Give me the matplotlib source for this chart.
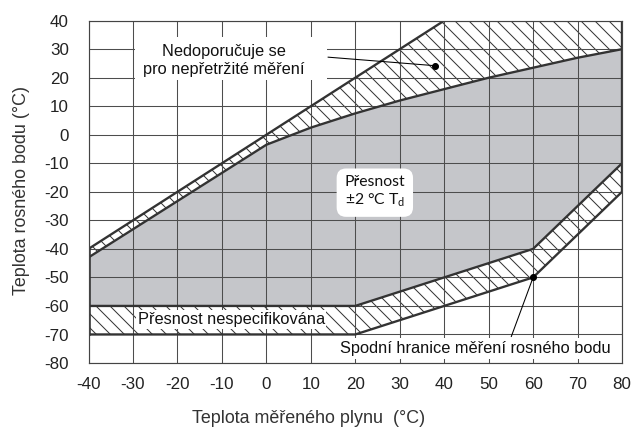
import matplotlib.pyplot as plt
from matplotlib.patches import Rectangle

plt.rcParams["font.family"] = ["Liberation Sans", "DejaVu Sans"]
plt.rcParams["axes.unicode_minus"] = False
plt.rcParams["hatch.linewidth"] = 0.85
plt.rcParams["mathtext.fontset"] = "custom"
plt.rcParams["mathtext.rm"] = "Lato"

# gas temperature (x) and dew point limits (y), in degC
upper_outer_x = [-40, 40, 80]
upper_outer_y = [-40, 40, 40]

upper_inner_x = [-40, 0, 10, 20, 30, 40, 50, 60, 70, 80]
upper_inner_y = [-43, -3.5, 2.5, 7.5, 12, 16, 20, 23.5, 27, 30]

lower_inner_x = [-40, 20, 60, 80]
lower_inner_y = [-60, -60, -40, -10]

lower_outer_x = [-40, 20, 60, 80]
lower_outer_y = [-70, -70, -50, -20]

callout_x = [38, 60]
callout_y = [24.2, -50]

x_ticks = list(range(-40, 81, 10))
y_ticks = list(range(-80, 41, 10))

ink = "#333333"
grey = "#c5c6ca"

fig = plt.figure(figsize=(7.56, 5.084), dpi=84)
ax = fig.add_axes([0.1394, 0.1499, 0.8401, 0.8016])

# grey area = accuracy +-2 degC
ax.fill(upper_inner_x + lower_inner_x[::-1],
        upper_inner_y + lower_inner_y[::-1],
        color=grey, lw=0, zorder=1)

# hatched bands
ax.fill(upper_outer_x + upper_inner_x[::-1],
        upper_outer_y + upper_inner_y[::-1],
        facecolor="none", edgecolor=ink, lw=0, hatch="\\\\", zorder=1)
ax.fill(lower_inner_x + lower_outer_x[::-1],
        lower_inner_y + lower_outer_y[::-1],
        facecolor="none", edgecolor=ink, lw=0, hatch="\\\\", zorder=1)

# boundaries
for xs, ys in [(upper_outer_x, upper_outer_y), (upper_inner_x, upper_inner_y),
               (lower_inner_x, lower_inner_y), (lower_outer_x, lower_outer_y)]:
    ax.plot(xs, ys, color=ink, lw=2, solid_joinstyle="miter", zorder=2)
ax.plot([upper_outer_x[0], lower_outer_x[0]], [upper_outer_y[0], lower_outer_y[0]],
        color=ink, lw=2.2, zorder=2)
ax.plot([upper_outer_x[-1], lower_outer_x[-1]], [upper_outer_y[-1], lower_outer_y[-1]],
        color=ink, lw=2, zorder=2)

ax.set_xlim(-40, 80)
ax.set_ylim(-80, 40)
ax.set_xticks(x_ticks)
ax.set_yticks(y_ticks)
ax.set_axisbelow("line")
ax.grid(True, color="#4d4d4d", lw=0.9)
for s in ax.spines.values():
    s.set_color("#444444")
    s.set_linewidth(1.0)

ax.tick_params(axis="both", length=0, labelsize=14.6, colors="#222222")
ax.tick_params(axis="x", pad=12)
ax.tick_params(axis="y", pad=17)

ax.set_xlabel("Teplota měřeného plynu  (°C)", fontsize=15.3, color="#333333")
ax.set_ylabel("Teplota rosného bodu (°C)", fontsize=15.3, color="#333333")
ax.xaxis.set_label_coords(0.413, -0.136)
ax.yaxis.set_label_coords(-0.109, 0.505)

# annotations
ax.add_patch(Rectangle((-29.5, 19.2), 43.1, 15.2, fc="white", ec="none", zorder=2.6))
ax.text(-9.5, 26, "Nedoporučuje se\npro nepřetržité měření", fontsize=14,
        ha="center", va="center", color="#111111", zorder=3)
ax.plot([13.9, callout_x[0]], [27.2, callout_y[0]], color="black", lw=0.9, zorder=3)

ax.text(24.4, -20, "Přesnost\n±2 °C T$_\\mathrm{d}$", family="Lato", fontsize=13.5,
        ha="center", va="center", color="#111111", zorder=3,
        bbox=dict(boxstyle="round,pad=0.5,rounding_size=0.6", fc="white", ec="none"))

ax.text(-7.9, -64.8, "Přesnost nespecifikována", fontsize=14,
        ha="center", va="center", color="#111111", zorder=3,
        bbox=dict(boxstyle="square,pad=0.1", fc="white", ec="none"))

ax.text(47.1, -75, "Spodní hranice měření rosného bodu", fontsize=14,
        ha="center", va="center", color="#111111", zorder=3,
        bbox=dict(boxstyle="square,pad=0.2", fc="white", ec="none"))
ax.plot([55.1, callout_x[1]], [-70.7, callout_y[1]], color="black", lw=0.9, zorder=3)

ax.plot(callout_x, callout_y, "o", color="black", ms=5, zorder=4)

plt.savefig("out.png", dpi=84)
